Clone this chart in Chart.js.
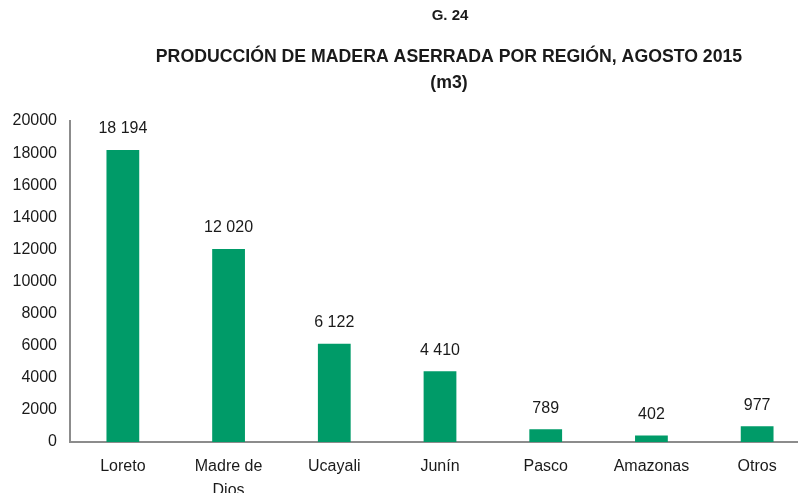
<!DOCTYPE html>
<html>
<head>
<meta charset="utf-8">
<script src="https://cdn.jsdelivr.net/npm/chart.js@4"></script>
<style>
  html, body { margin: 0; padding: 0; background: #fff; overflow: hidden; }
  #wrap { width: 900px; height: 520px; }
</style>
</head>
<body>
<div id="wrap"><canvas id="madChart" width="900" height="520"></canvas></div>
<script>
const categories = ['Loreto', ['Madre de', 'Dios'], 'Ucayali', 'Junín', 'Pasco', 'Amazonas', 'Otros'];
const produccion = [18194, 12020, 6122, 4410, 789, 402, 977];
const yTicks = [0, 2000, 4000, 6000, 8000, 10000, 12000, 14000, 16000, 18000, 20000];

const titleLines = ['G. 24', 'PRODUCCIÓN DE MADERA ASERRADA POR REGIÓN, AGOSTO 2015', '(m3)'];

function fmt(v) {
    return String(v).replace(/\B(?=(\d{3})+(?!\d))/g, ' ');
}

const titlePlugin = {
    id: 'titles',
    afterDraw(chart) {
        const c = chart.ctx;
        c.save();
        c.fillStyle = '#1a1a1a';
        c.textAlign = 'center';
        c.textBaseline = 'middle';
        c.font = 'bold 15px "Liberation Sans", Arial, sans-serif';
        c.fillText(titleLines[0], 450, 16);
        c.font = 'bold 17.7px "Liberation Sans", Arial, sans-serif';
        c.fillText(titleLines[1], 449, 57);
        c.fillText(titleLines[2], 449, 83);
        c.restore();
    }
};

const valuePlugin = {
    id: 'values',
    afterDatasetsDraw(chart) {
        const c = chart.ctx;
        const meta = chart.getDatasetMeta(0);
        c.save();
        c.fillStyle = '#1a1a1a';
        c.font = '16px "Liberation Sans", Arial, sans-serif';
        c.textAlign = 'center';
        c.textBaseline = 'middle';
        meta.data.forEach((bar, i) => {
            c.fillText(fmt(produccion[i]), bar.x, bar.y - 21);
        });
        c.restore();
    }
};

const ctx = document.getElementById('madChart').getContext('2d');
new Chart(ctx, {
    type: 'bar',
    data: {
        labels: categories,
        datasets: [{
            data: produccion,
            backgroundColor: '#009B68',
            barPercentage: 0.31,
            categoryPercentage: 1
        }]
    },
    options: {
        responsive: false,
        animation: false,
        layout: { padding: { top: 121, right: 90, bottom: 4, left: 0 } },
        plugins: {
            legend: { display: false },
            tooltip: { enabled: false }
        },
        scales: {
            y: {
                min: 0,
                max: 20000,
                afterBuildTicks(scale) {
                    scale.ticks = yTicks.map(v => ({ value: v }));
                },
                afterFit(scale) { scale.width = 70; },
                grid: { display: false, drawTicks: false },
                border: { color: '#8c8c8c', width: 2 },
                ticks: {
                    padding: 13,
                    color: '#1a1a1a',
                    callback: v => String(v),
                    font: { family: '"Liberation Sans", Arial, sans-serif', size: 16 }
                }
            },
            x: {
                grid: { display: false, drawTicks: false },
                border: { color: '#8c8c8c', width: 2 },
                ticks: {
                    padding: 13,
                    maxRotation: 0,
                    autoSkip: false,
                    color: '#1a1a1a',
                    font: { family: '"Liberation Sans", Arial, sans-serif', size: 16, lineHeight: 1.5 }
                }
            }
        }
    },
    plugins: [titlePlugin, valuePlugin]
});
</script>
</body>
</html>
